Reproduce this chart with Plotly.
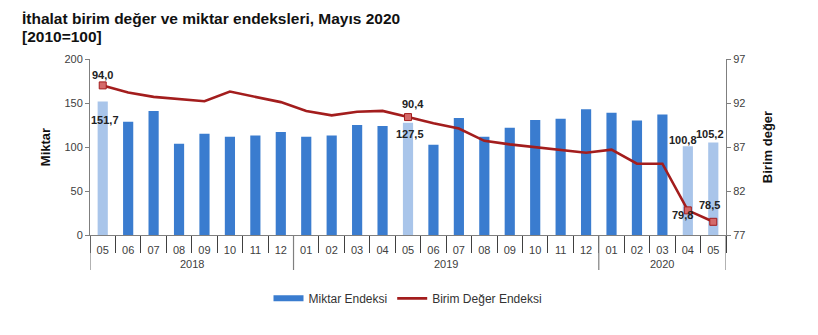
import plotly.graph_objects as go

# Months (2018-05 .. 2020-05)
years = ["2018"] * 8 + ["2019"] * 12 + ["2020"] * 5
months = ["05", "06", "07", "08", "09", "10", "11", "12",
          "01", "02", "03", "04", "05", "06", "07", "08", "09", "10", "11", "12",
          "01", "02", "03", "04", "05"]

# Quantity index (left axis)
miktar = [151.7, 128.8, 141.0, 103.6, 115.0, 111.6, 113.0, 117.0,
          111.6, 113.0, 125.0, 124.0, 127.5, 102.5, 133.0, 111.6, 122.0, 130.6, 132.0, 143.0,
          139.0, 130.0, 137.0, 100.8, 105.2]

# Unit value index (right axis)
birim = [94.0, 93.2, 92.7, 92.45, 92.2, 93.3, 92.7, 92.1,
         91.1, 90.6, 91.0, 91.1, 90.4, 89.7, 89.1, 87.7, 87.3, 87.0, 86.7, 86.35,
         86.7, 85.1, 85.1, 79.8, 78.5]

# Months that are highlighted and labelled
highlight = [0, 12, 23, 24]
# label offsets in pixels (xshift, yshift) for bar and line labels
bar_label_shift = [(2, -18), (2, -11), (-5, 6), (-3, 8)]
line_label_shift = [(0, 10), (5, 13), (-5, -5), (-4, 17)]

DARK_BLUE = "#3a7ccf"
LIGHT_BLUE = "#a9c5ea"
RED = "#a31d1d"
AXIS_GRAY = "#7f7f7f"
LABEL_FONT = dict(family="Arial", size=11, color="#222222")


def fmt(v):
    return f"{v:.1f}".replace(".", ",")


n = len(months)
idx = list(range(n))
bar_colors = [LIGHT_BLUE if i in highlight else DARK_BLUE for i in idx]

fig = go.Figure()

fig.add_trace(go.Bar(
    x=idx, y=miktar, name="Miktar Endeksi",
    marker=dict(color=bar_colors, line=dict(width=0)),
    hovertext=[f"{y}-{m}" for y, m in zip(years, months)],
    showlegend=False,
))

fig.add_trace(go.Scatter(
    x=idx, y=birim, name="Birim Değer Endeksi", yaxis="y2",
    mode="lines", line=dict(color=RED, width=2.6),
    showlegend=False,
))

# square markers on the labelled months of the unit value line
fig.add_trace(go.Scatter(
    x=[idx[i] for i in highlight], y=[birim[i] for i in highlight], yaxis="y2",
    mode="markers",
    marker=dict(symbol="square", size=7, color="#d46a6a", line=dict(color=RED, width=1)),
    showlegend=False, hoverinfo="skip",
))

# legend entries
fig.add_trace(go.Scatter(
    x=[None], y=[None], name="Miktar Endeksi", mode="lines",
    line=dict(color=DARK_BLUE, width=6),
))
fig.add_trace(go.Scatter(
    x=[None], y=[None], name="Birim Değer Endeksi", mode="lines",
    line=dict(color=RED, width=2.6),
))

annotations = []
for i, (dx, dy) in zip(highlight, bar_label_shift):
    annotations.append(dict(
        x=idx[i], y=miktar[i], xref="x", yref="y", text=f"<b>{fmt(miktar[i])}</b>",
        showarrow=False, xshift=dx, yshift=dy, font=LABEL_FONT))
for i, (dx, dy) in zip(highlight, line_label_shift):
    annotations.append(dict(
        x=idx[i], y=birim[i], xref="x", yref="y2", text=f"<b>{fmt(birim[i])}</b>",
        showarrow=False, xshift=dx, yshift=dy, font=LABEL_FONT))

# year groups: separators at group edges and centred year labels
PLOT_H = 335 - 59 - 100
PLOT_W = 818 - 90 - 92
year_edges = [-0.5]
year_centers = []
for k in range(n):
    if k == n - 1 or years[k + 1] != years[k]:
        start = year_edges[-1]
        end = k + 0.5
        year_centers.append(((start + end) / 2, years[k]))
        year_edges.append(end)

shapes = [
    dict(type="line", xref="x", yref="paper", x0=e, x1=e, y0=0, y1=-35 / PLOT_H,
         line=dict(color=AXIS_GRAY, width=1.2))
    for e in year_edges
]
annotations += [
    dict(x=c, y=-29 / PLOT_H, xref="x", yref="paper", text=label, showarrow=False,
         font=dict(size=11, color="#404040"), yanchor="middle")
    for c, label in year_centers
]

# title lines (positions given in pixels, converted to paper fractions)
for text, py in [("İthalat birim değer ve miktar endeksleri, Mayıs 2020", 18),
                 ("[2010=100]", 36)]:
    annotations.append(dict(
        x=(20 - 90) / PLOT_W, y=1 + (59 - py) / PLOT_H, xref="paper", yref="paper",
        text=f"<b>{text}</b>", showarrow=False, xanchor="left", yanchor="middle",
        font=dict(family="Arial", size=15.5, color="#111111")))

fig.update_layout(
    width=818, height=335,
    margin=dict(l=90, r=92, t=59, b=100),
    paper_bgcolor="white", plot_bgcolor="white",
    font=dict(family="Arial", size=11, color="#404040"),
    bargap=0.6,
    shapes=shapes,
    annotations=annotations,
    xaxis=dict(
        range=[-0.5, n - 0.5],
        tickmode="array", tickvals=idx, ticktext=months,
        ticks="", showline=True, linecolor=AXIS_GRAY, linewidth=1,
        ticklabelstandoff=5,
        minor=dict(tickmode="array", tickvals=[k - 0.5 for k in range(n + 1)],
                   ticks="outside", ticklen=17, tickcolor="#404040", tickwidth=1),
        tickfont=dict(size=11, color="#404040"),
        showgrid=False, zeroline=False,
    ),
    yaxis=dict(
        range=[0, 200], dtick=50, showgrid=False, zeroline=False,
        showline=True, linecolor=AXIS_GRAY, ticks="outside", ticklen=4,
        tickcolor=AXIS_GRAY,
        title=dict(text="<b>Miktar</b>", font=dict(size=13, color="#111111"), standoff=10),
    ),
    yaxis2=dict(
        range=[77, 97], tick0=77, dtick=5, overlaying="y", side="right",
        showgrid=False, zeroline=False,
        showline=True, linecolor=AXIS_GRAY, ticks="outside", ticklen=4,
        tickcolor=AXIS_GRAY,
        title=dict(text="<b>Birim değer</b>", font=dict(size=13, color="#111111"), standoff=18),
    ),
    legend=dict(
        orientation="h", x=0.5, xanchor="center", y=-0.36, yanchor="middle",
        font=dict(size=12, color="#333333"),
    ),
)

fig.write_html("out.html")
